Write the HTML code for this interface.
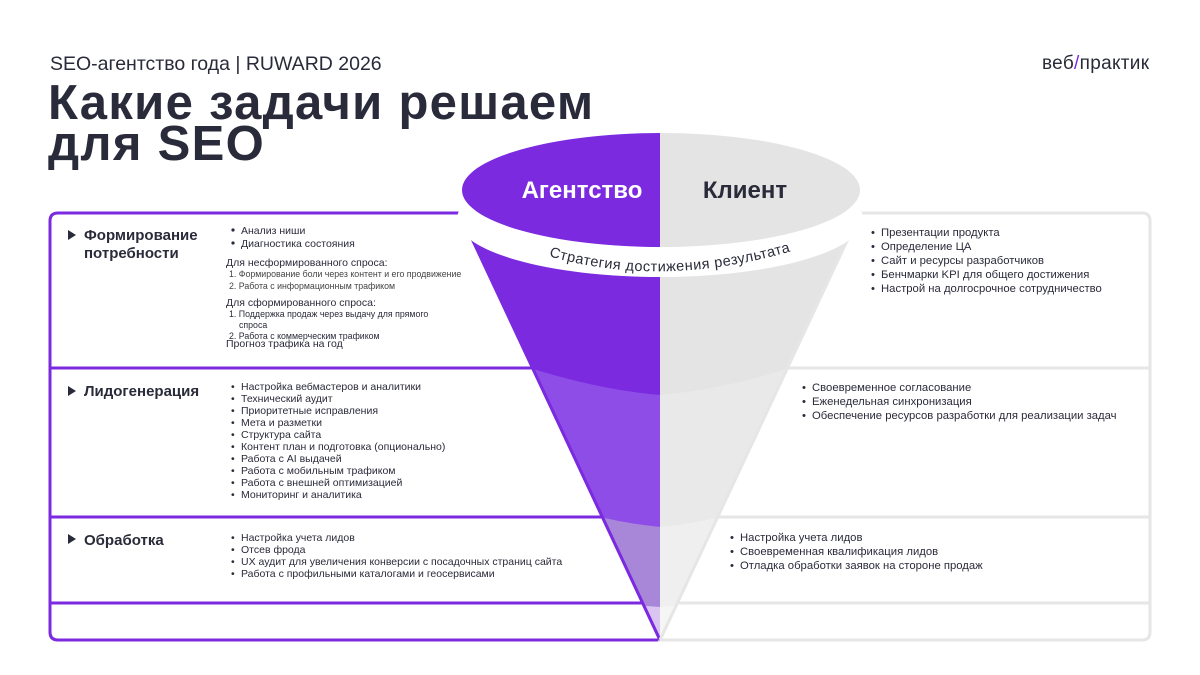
<!DOCTYPE html>
<html><head><meta charset="utf-8"><style>
body{margin:0;width:1200px;height:675px;background:#fff;overflow:hidden;font-family:"Liberation Sans","Noto Sans CJK SC",sans-serif;color:#2a2b3a}
svg{position:absolute;left:0;top:0}
</style></head><body>
<svg width="1200" height="675" viewBox="0 0 1200 675" xmlns="http://www.w3.org/2000/svg" font-family="Liberation Sans, sans-serif">
<defs>
<clipPath id="cone"><polygon points="458,212 862,212 660,640"/></clipPath>
<clipPath id="lh"><rect x="0" y="0" width="660" height="675"/></clipPath>
<clipPath id="rh"><rect x="660" y="0" width="600" height="675"/></clipPath>
<path id="arc" d="M 535 252 Q 660 293 805 247"/>
</defs>
<text x="50" y="70" font-size="19.5" fill="#2a2b3a">SEO-агентство года | RUWARD 2026</text>
<text x="48" y="119" font-size="49" font-weight="bold" fill="#2a2b3a" letter-spacing="1.3">Какие задачи решаем</text>
<text x="48" y="160" font-size="49" font-weight="bold" fill="#2a2b3a" letter-spacing="1.3">для SEO</text>
<text x="1042" y="69" font-size="19" fill="#2a2b3a" letter-spacing="0.3">веб<tspan fill="#7b2ae0">/</tspan>практик</text>

<g fill="none" stroke-width="3">
<path d="M 460 213 H 58 Q 50 213 50 221 V 632 Q 50 640 58 640 H 660 L 460 213" stroke="#7b2ae0"/>
<path d="M 50 368 H 533 M 50 517 H 603 M 50 603 H 643" stroke="#7b2ae0"/>
<path d="M 860 213 H 1142 Q 1150 213 1150 221 V 632 Q 1150 640 1142 640 H 660 L 860 213" stroke="#e6e6e6"/>
<path d="M 787 368 H 1150 M 717 517 H 1150 M 677 603 H 1150" stroke="#e6e6e6"/>
</g>

<g clip-path="url(#cone)">
 <g clip-path="url(#lh)">
  <rect x="400" y="200" width="300" height="460" fill="#d9c4f2"/>
  <path d="M 400 200 H 660 V 607 Q 630 605 600 600 L 400 600 Z" fill="#a887d9"/>
  <path d="M 400 200 H 660 V 527 Q 630 524 600 517 L 400 517 Z" fill="#8f4de8"/>
  <path d="M 400 200 H 660 V 395 Q 600 390 530 368 L 400 368 Z" fill="#7b2ae0"/>
 </g>
 <g clip-path="url(#rh)">
  <rect x="660" y="200" width="300" height="460" fill="#f5f5f5"/>
  <path d="M 920 200 H 660 V 607 Q 690 605 720 600 L 920 600 Z" fill="#efefef"/>
  <path d="M 920 200 H 660 V 527 Q 690 524 720 517 L 920 517 Z" fill="#e9e9e9"/>
  <path d="M 920 200 H 660 V 395 Q 720 390 790 368 L 920 368 Z" fill="#e4e4e4"/>
 </g>
</g>
<line x1="460" y1="213" x2="660" y2="640" stroke="#7b2ae0" stroke-width="3"/>
<line x1="860" y1="213" x2="660" y2="640" stroke="#e6e6e6" stroke-width="3"/>

<ellipse cx="660" cy="219" rx="203" ry="58" fill="#fff"/>
<g clip-path="url(#lh)"><ellipse cx="661" cy="190" rx="199" ry="57" fill="#7b2ae0"/></g>
<g clip-path="url(#rh)"><ellipse cx="661" cy="190" rx="199" ry="57" fill="#e4e4e4"/></g>
<text x="582" y="198" font-size="24" font-weight="bold" fill="#fff" text-anchor="middle">Агентство</text>
<text x="745" y="198" font-size="24" font-weight="bold" fill="#2a2b3a" text-anchor="middle">Клиент</text>
<text font-size="14.5" fill="#2a2b3a" letter-spacing="0.5"><textPath href="#arc" startOffset="50%" text-anchor="middle">Стратегия достижения результата</textPath></text>

<g fill="#2a2b3a" font-weight="bold" font-size="15">
<polygon points="68,230 76,235 68,240"/>
<text x="84" y="240">Формирование</text><text x="84" y="258">потребности</text>
<polygon points="68,386 76,391 68,396"/>
<text x="84" y="396">Лидогенерация</text>
<polygon points="68,534 76,539 68,544"/>
<text x="84" y="545">Обработка</text>
</g>

<g fill="#2a2b3a" font-size="10.5">
<g><circle cx="233" cy="230" r="1.6"/><circle cx="233" cy="243" r="1.6"/></g>
<text x="241" y="234">Анализ ниши</text>
<text x="241" y="247">Диагностика состояния</text>
<text x="226" y="266" font-size="10.5">Для несформированного спроса:</text>
<text x="229" y="277" font-size="8.8" fill="#444">1. Формирование боли через контент и его продвижение</text>
<text x="229" y="289" font-size="8.8" fill="#444">2. Работа с информационным трафиком</text>
<text x="226" y="306" font-size="10.5">Для сформированного спроса:</text>
<text x="229" y="317" font-size="8.8">1. Поддержка продаж через выдачу для прямого</text>
<text x="239" y="328" font-size="8.8">спроса</text>
<text x="229" y="339" font-size="8.8">2. Работа с коммерческим трафиком</text>
<text x="226" y="347" font-size="10.5">Прогноз трафика на год</text>
</g>

<g fill="#2a2b3a" font-size="10.5">
<text x="231" y="390">•</text><text x="241" y="390">Настройка вебмастеров и аналитики</text>
<text x="231" y="402">•</text><text x="241" y="402">Технический аудит</text>
<text x="231" y="414">•</text><text x="241" y="414">Приоритетные исправления</text>
<text x="231" y="426">•</text><text x="241" y="426">Мета и разметки</text>
<text x="231" y="438">•</text><text x="241" y="438">Структура сайта</text>
<text x="231" y="450">•</text><text x="241" y="450">Контент план и подготовка (опционально)</text>
<text x="231" y="462">•</text><text x="241" y="462">Работа с AI выдачей</text>
<text x="231" y="474">•</text><text x="241" y="474">Работа с мобильным трафиком</text>
<text x="231" y="486">•</text><text x="241" y="486">Работа с внешней оптимизацией</text>
<text x="231" y="498">•</text><text x="241" y="498">Мониторинг и аналитика</text>

<text x="231" y="541">•</text><text x="241" y="541">Настройка учета лидов</text>
<text x="231" y="553">•</text><text x="241" y="553">Отсев фрода</text>
<text x="231" y="565">•</text><text x="241" y="565">UX аудит для увеличения конверсии с посадочных страниц сайта</text>
<text x="231" y="577">•</text><text x="241" y="577">Работа с профильными каталогами и геосервисами</text>
</g>

<g fill="#2a2b3a" font-size="11.3">
<text x="871" y="236">•</text><text x="881" y="236">Презентации продукта</text>
<text x="871" y="250">•</text><text x="881" y="250">Определение ЦА</text>
<text x="871" y="264">•</text><text x="881" y="264">Сайт и ресурсы разработчиков</text>
<text x="871" y="278">•</text><text x="881" y="278">Бенчмарки KPI для общего достижения</text>
<text x="871" y="292">•</text><text x="881" y="292">Настрой на долгосрочное сотрудничество</text>

<text x="802" y="391">•</text><text x="812" y="391">Своевременное согласование</text>
<text x="802" y="405">•</text><text x="812" y="405">Еженедельная синхронизация</text>
<text x="802" y="419">•</text><text x="812" y="419">Обеспечение ресурсов разработки для реализации задач</text>

<text x="730" y="541">•</text><text x="740" y="541">Настройка учета лидов</text>
<text x="730" y="555">•</text><text x="740" y="555">Своевременная квалификация лидов</text>
<text x="730" y="569">•</text><text x="740" y="569">Отладка обработки заявок на стороне продаж</text>
</g>
</svg>
</body></html>
